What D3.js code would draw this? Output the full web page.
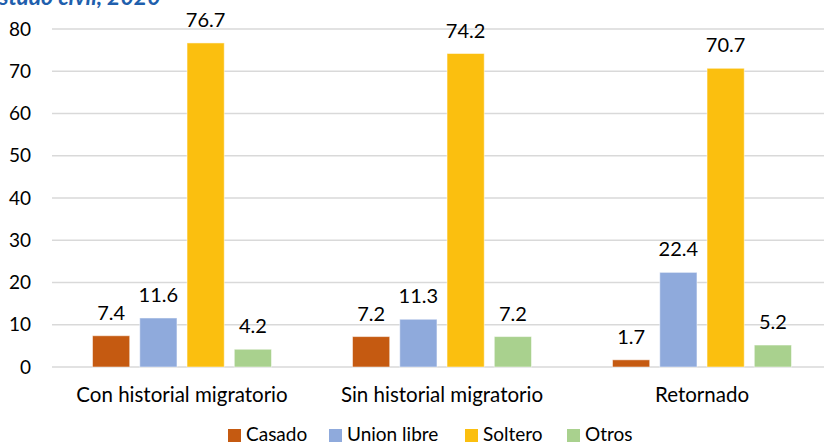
<!DOCTYPE html>
<html>
<head>
<meta charset="utf-8">
<script src="https://cdn.jsdelivr.net/npm/d3@7"></script>
<style>
  body { margin: 0; background: #fff; }
  svg { display: block; font-family: "Lato", "Open Sans", sans-serif; }
</style>
</head>
<body>
<svg id="chart" width="824" height="444"></svg>
<script>
// data
const categories = ["Con historial migratorio", "Sin historial migratorio", "Retornado"];
const seriesNames = ["Casado", "Union libre", "Soltero", "Otros"];
const casado = [7.4, 7.2, 1.7];
const unionLibre = [11.6, 11.3, 22.4];
const soltero = [76.7, 74.2, 70.7];
const otros = [4.2, 7.2, 5.2];
const yTicks = [0, 10, 20, 30, 40, 50, 60, 70, 80];

const colors = ["#c55a11", "#8faadc", "#fbbf0f", "#a9d18e"];
const seriesValues = [casado, unionLibre, soltero, otros];

const WIDTH = 824;
const HEIGHT = 444;
const MARGINS = { top: 29, right: -8, bottom: 77, left: 52 };

const svg = d3.select("#chart");

// table built from arrays
const table = categories.map((c, i) => ({
  category: c,
  values: seriesNames.map((s, j) => ({ key: s, value: seriesValues[j][i], color: colors[j] }))
}));

const x0 = d3.scaleBand()
  .domain(categories)
  .range([MARGINS.left, WIDTH - MARGINS.right]);

// bars cluster of ~179px centred in each group
const cluster = 179;
const x1 = d3.scaleBand()
  .domain(seriesNames)
  .range([(x0.bandwidth() - cluster) / 2, (x0.bandwidth() + cluster) / 2])
  .paddingInner(0.213);

const y = d3.scaleLinear()
  .domain([0, 80])
  .range([HEIGHT - MARGINS.bottom, MARGINS.top]);

// title, cut off at top in the reference
svg.append("text")
  .attr("x", -12)
  .attr("y", 5)
  .attr("font-size", "23px")
  .attr("font-weight", "bold")
  .attr("font-style", "italic")
  .attr("fill", "#1f5fad")
  .text("estado civil, 2020");

// gridlines
svg.append("g")
  .selectAll("line")
  .data(yTicks)
  .join("line")
    .attr("x1", MARGINS.left)
    .attr("x2", WIDTH)
    .attr("y1", d => y(d))
    .attr("y2", d => y(d))
    .attr("stroke", "#d9d9d9")
    .attr("stroke-width", 1.5);

// y axis labels
const yAxis = svg.append("g")
  .attr("transform", `translate(${MARGINS.left},0)`)
  .call(d3.axisLeft(y).tickValues(yTicks).tickSize(0).tickPadding(21));
yAxis.select(".domain").remove();
yAxis.selectAll("text")
  .attr("font-size", "19px")
  .attr("font-family", "Lato, sans-serif")
  .attr("fill", "#000");

// bars
const groups = svg.append("g")
  .selectAll("g")
  .data(table)
  .join("g")
    .attr("transform", d => `translate(${x0(d.category)},0)`);

groups.selectAll("rect")
  .data(d => d.values)
  .join("rect")
    .attr("x", d => x1(d.key))
    .attr("y", d => y(d.value))
    .attr("width", x1.bandwidth())
    .attr("height", d => y(0) - y(d.value))
    .attr("fill", d => d.color)
    .attr("stroke", "#fff")
    .attr("stroke-opacity", 0.5)
    .attr("stroke-width", 1);

groups.selectAll("text")
  .data(d => d.values)
  .join("text")
    .attr("x", d => x1(d.key) + x1.bandwidth() / 2)
    .attr("y", d => y(d.value) - 16)
    .attr("text-anchor", "middle")
    .attr("font-size", "20px")
    .attr("fill", "#000")
    .text(d => d.value.toFixed(1));

// x axis labels
const xAxis = svg.append("g")
  .attr("transform", `translate(0,${y(0)})`)
  .call(d3.axisBottom(x0).tickSize(0).tickPadding(20));
xAxis.select(".domain").remove();
xAxis.selectAll("text")
  .attr("font-size", "20.5px")
  .attr("font-family", "Lato, sans-serif")
  .attr("fill", "#000");

// legend
const legendX = [228, 329, 465, 567];
const legend = svg.append("g")
  .selectAll("g")
  .data(seriesNames)
  .join("g")
    .attr("transform", (d, i) => `translate(${legendX[i]},429)`);

legend.append("rect")
  .attr("width", 13)
  .attr("height", 13)
  .attr("fill", (d, i) => colors[i]);

legend.append("text")
  .attr("x", 18)
  .attr("y", 12)
  .attr("font-size", "19px")
  .attr("fill", "#000")
  .text(d => d);
</script>
</body>
</html>
